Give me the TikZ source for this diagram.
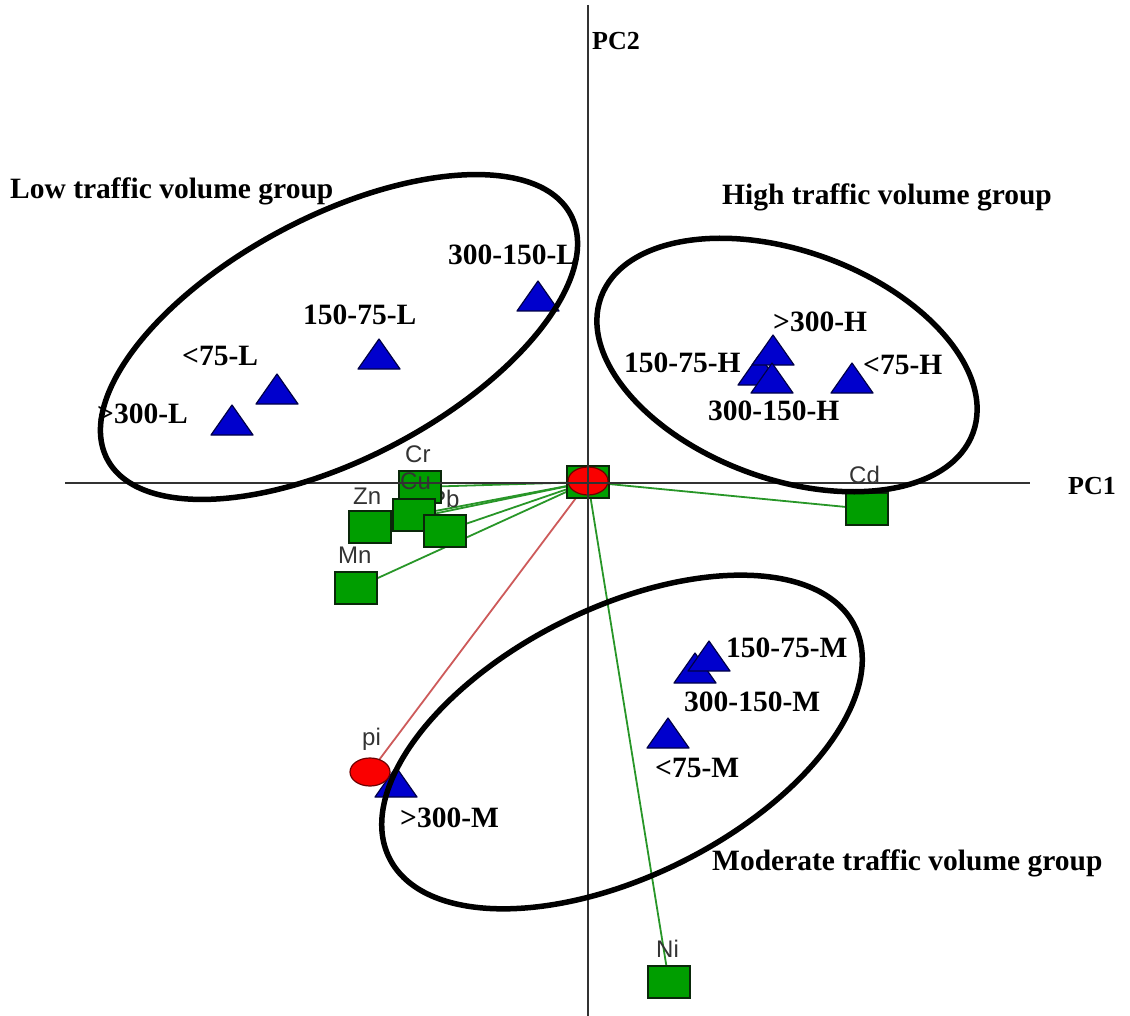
\documentclass[tikz,border=0pt]{standalone}
\usepackage{fontspec}
\setmainfont{Liberation Serif}
\newfontfamily\lsans{Liberation Sans}
\usetikzlibrary{shapes.geometric}
\pgfdeclarelayer{bg}
\pgfdeclarelayer{fg}
\pgfsetlayers{bg,main,fg}
\definecolor{triblue}{RGB}{0,0,205}
\definecolor{triedge}{RGB}{0,0,70}
\definecolor{sqgreen}{RGB}{0,158,0}
\definecolor{sqedge}{RGB}{10,40,10}
\definecolor{mkred}{RGB}{250,0,0}
\definecolor{mkedge}{RGB}{110,0,0}
\definecolor{lngreen}{RGB}{40,150,40}
\definecolor{lnred}{RGB}{205,90,90}
\definecolor{axgray}{RGB}{50,50,50}
\tikzset{
  lab/.style={font=\fontsize{29.5}{34}\selectfont\bfseries, inner sep=0pt, anchor=base west},
  axlab/.style={font=\fontsize{26}{30}\selectfont\bfseries, inner sep=0pt, anchor=base west},
  ellab/.style={font=\lsans\fontsize{24}{28}\selectfont, text=black!80, inner sep=0pt, anchor=base west},
  sq/.style={rectangle, draw=sqedge, fill=sqgreen, line width=1.3pt, minimum width=42pt, minimum height=32pt, inner sep=0pt},
  redmk/.style={ellipse, draw=mkedge, fill=mkred, line width=1.2pt, minimum width=40pt, minimum height=28pt, inner sep=0pt},
  tri/.pic={\draw[fill=triblue, draw=triedge, line width=1.2pt, line join=round] (-21,15) -- (21,15) -- (0,-15) -- cycle;},
  conn/.style={draw=lngreen, line width=1.8pt},
  connred/.style={draw=lnred, line width=1.8pt},
  axis/.style={draw=axgray, line width=2.4pt},
  grp/.style={draw=black, line width=5.5pt}
}
\begin{document}
\begin{tikzpicture}[x=1pt, y=-1pt]
\useasboundingbox (0,0) rectangle (1130,1016);

% axis end points
\coordinate (xl) at (65,483);
\coordinate (xr) at (1030,483);
\coordinate (yt) at (588,5);
\coordinate (yb) at (588,1016);

% green element squares with labels
\node[ellab] (lzn) at (353,504) {Zn};
\node[sq] (zn) at (370,527) {};
\node[ellab] (lmn) at (338,563) {Mn};
\node[sq] (mn) at (356,588) {};
\node[ellab] (lpb) at (430,507) {Pb};
\node[sq] (cr) at (420,487) {};
\node[ellab] (lcr) at (405,462) {Cr};
\node[sq] (cu) at (414,515) {};
\node[ellab] (lcu) at (400,489) {Cu};
\node[sq] (pb) at (445,531) {};
\node[ellab] (lcd) at (849,483) {Cd};
\node[sq] (cd) at (867,509) {};
\node[ellab] (lni) at (656,957) {Ni};
\node[sq] (ni) at (669,982) {};

% origin marker
\node[sq] (o) at (588,482) {};
\node[redmk] (oc) at (588,481) {};

% triangles (samples)
\pic (t1) at (232,420) {tri};
\pic (t2) at (277,389) {tri};
\pic (t3) at (379,354) {tri};
\pic (t4) at (538,296) {tri};
\pic (t6) at (759,370) {tri};
\pic (t5) at (773,350) {tri};
\pic (t7) at (772,378) {tri};
\pic (t8) at (852,378) {tri};
\pic (t10) at (695,668) {tri};
\pic (t9) at (709,656) {tri};
\pic (t11) at (668,733) {tri};
\pic (t12) at (396,782) {tri};

% pi marker
\node[ellab] (lpi) at (362,745) {pi};
\node[redmk] (pi) at (370,772) {};

% connectors
\begin{pgfonlayer}{bg}
\draw[conn] (o.center) -- (cr.center);
\draw[conn] (o.center) -- (cu.center);
\draw[conn] (o.center) -- (pb.center);
\draw[conn] (o.center) -- (zn.center);
\draw[conn] (o.center) -- (mn.center);
\draw[conn] (o.center) -- (cd.center);
\draw[conn] (o.center) -- (ni.center);
\draw[connred] (o.center) -- (pi.center);
\end{pgfonlayer}

% sample labels
\node[lab] (l1) at (97,423) {>300-L};
\node[lab] (l2) at (182,366) {<75-L};
\node[lab] (l3) at (303,325) {150-75-L};
\node[lab] (l4) at (448,265) {300-150-L};
\node[lab] (l5) at (773,332) {>300-H};
\node[lab] (l6) at (624,372) {150-75-H};
\node[lab] (l7) at (708,420) {300-150-H};
\node[lab] (l8) at (863,374) {<75-H};
\node[lab] (l9) at (726,657) {150-75-M};
\node[lab] (l10) at (684,711) {300-150-M};
\node[lab] (l11) at (655,777) {<75-M};
\node[lab] (l12) at (400,827) {>300-M};

% group labels
\node[lab] (glow) at (10,199) {Low traffic volume group};
\node[lab] (ghigh) at (722,205) {High traffic volume group};
\node[lab] (gmod) at (712,870) {Moderate traffic volume group};

% axes
\begin{pgfonlayer}{fg}
\draw[axis] (xl) -- (xr);
\draw[axis] (yt) -- (yb);
\node[axlab] (pc1) at (1068,494) {PC1};
\node[axlab] (pc2) at (592,50) {PC2};
% group ellipses
\draw[grp, rotate around={27.8:(339,337)}] (339,337) ellipse [x radius=262pt, y radius=121pt];
\draw[grp, rotate around={-20:(787,365)}] (787,365) ellipse [x radius=198pt, y radius=114pt];
\draw[grp, rotate around={26.5:(622,742)}] (622,742) ellipse [x radius=260pt, y radius=134pt];
\end{pgfonlayer}
\end{tikzpicture}
\end{document}
